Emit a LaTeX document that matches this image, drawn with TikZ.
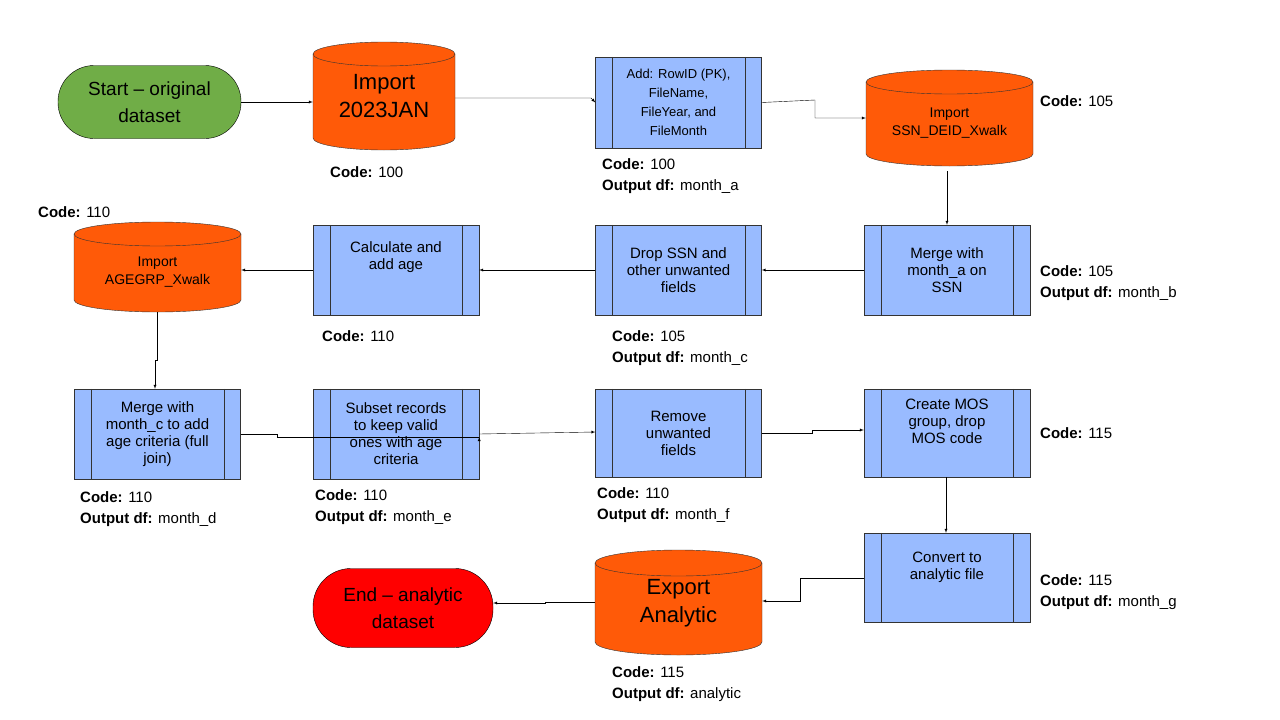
\documentclass[tikz,border=0pt]{standalone}
\usepackage{fontspec}
\setmainfont{Liberation Sans}
\begin{document}
\begin{tikzpicture}[x=1pt,y=-1pt,
  proc/.style={draw=black!80,fill=procblue,minimum width=166,minimum height=90,align=center,font=\fontsize{15}{17}\selectfont,inner sep=0},
  term/.style={draw=black,rounded corners=36,minimum height=73,align=center,font=\fontsize{19}{27}\selectfont},
  cyltxt/.style={minimum width=#1,align=center,inner sep=0},
  lbl/.style={anchor=west,font=\fontsize{15}{17}\selectfont,inner sep=0},
  conn/.style={-latex,black}]
\definecolor{procblue}{HTML}{99BBFF}
\definecolor{cylor}{HTML}{FF5A08}
\definecolor{startg}{HTML}{70AD47}
\useasboundingbox (0,0) rectangle (1280,720);
\newcommand\cylshape[5]{% x1 x2 yt yb ry
  \filldraw[fill=cylor,draw=black!80] (#1,#3) -- (#1,#4) arc[start angle=180,end angle=0,x radius={(#2-#1)/2},y radius=#5] -- (#2,#3) arc[start angle=0,end angle=-180,x radius={(#2-#1)/2},y radius=#5] -- cycle;
  \draw[black!80] (#1,#3) arc[start angle=180,end angle=0,x radius={(#2-#1)/2},y radius=#5];}
% terminals
\node[term,fill=startg,minimum width=183] (start) at (149.5,102) {Start -- original\\dataset};
\node[term,fill=red,minimum width=180,minimum height=79,rounded corners=38] (end) at (403,608) {End -- analytic\\dataset};
% cylinders
\cylshape{313}{455}{54}{138}{12}
\node[cyltxt=142,minimum height=108,font=\fontsize{22}{28}\selectfont] (imp) at (384,96) {Import\\2023JAN};
\cylshape{866}{1033}{82}{154}{12}
\node[cyltxt=167,minimum height=96,font=\fontsize{14}{18}\selectfont] (ssn) at (949.5,123) {Import\\SSN\_DEID\_Xwalk};
\cylshape{74}{241}{234}{300}{12}
\node[cyltxt=167,minimum height=90,font=\fontsize{14}{18}\selectfont] (age) at (157.5,272) {Import\\AGEGRP\_Xwalk};
\cylshape{595}{762}{563}{642}{13}
\node[cyltxt=167,minimum height=105,font=\fontsize{22}{28}\selectfont] (exp) at (678.5,603) {Export\\Analytic};
% process boxes
\node[proc,font=\fontsize{13}{19}\selectfont,minimum height=91] (add) at (678.5,102.5) {Add: RowID (PK),\\FileName,\\FileYear, and\\FileMonth};
\node[proc] (mrg1) at (947,270) {Merge with\\month\_a on\\SSN};
\node[proc] (drop) at (678.5,270) {Drop SSN and\\other unwanted\\fields};
\node[proc] (calc) at (396,270) {Calculate and\\add age\\[12pt]};
\node[proc] (mrg2) at (157.5,434) {Merge with\\month\_c to add\\age criteria (full\\join)};
\node[proc] (sub) at (396,434) {Subset records\\to keep valid\\ones with age\\criteria};
\node[proc,minimum height=88] (rem) at (678.5,433) {Remove\\unwanted\\fields};
\node[proc,minimum height=88] (mos) at (947,433) {Create MOS\\group, drop\\MOS code\\[6pt]};
\node[proc,minimum height=89] (conv) at (947,577.5) {Convert to\\analytic file\\[6pt]};
\foreach \n in {add,mrg1,drop,calc,mrg2,sub,rem,mos,conv}{
  \draw[black!80] ([xshift=17]\n.north west) -- ([xshift=17]\n.south west);
  \draw[black!80] ([xshift=-17]\n.north east) -- ([xshift=-17]\n.south east);}
% labels
\node[lbl] (l1) at (330,172) {\textbf{Code:} 100};
\node[lbl] (l2) at (602,164) {\textbf{Code:} 100};
\node[lbl] (l3) at (602,187) {\textbf{Output df:} month\_a};
\node[lbl] (l4) at (1040,101) {\textbf{Code:} 105};
\node[lbl] (l5) at (1040,271) {\textbf{Code:} 105};
\node[lbl] (l6) at (1040,294) {\textbf{Output df:} month\_b};
\node[lbl] (l7) at (612,336) {\textbf{Code:} 105};
\node[lbl] (l8) at (612,359) {\textbf{Output df:} month\_c};
\node[lbl] (l9) at (322,336) {\textbf{Code:} 110};
\node[lbl] (l10) at (38,212) {\textbf{Code:} 110};
\node[lbl] (l11) at (80,497) {\textbf{Code:} 110};
\node[lbl] (l12) at (80,520) {\textbf{Output df:} month\_d};
\node[lbl] (l13) at (315,495) {\textbf{Code:} 110};
\node[lbl] (l14) at (315,518) {\textbf{Output df:} month\_e};
\node[lbl] (l15) at (597,493) {\textbf{Code:} 110};
\node[lbl] (l16) at (597,516) {\textbf{Output df:} month\_f};
\node[lbl] (l17) at (1040,433) {\textbf{Code:} 115};
\node[lbl] (l18) at (1040,580) {\textbf{Code:} 115};
\node[lbl] (l19) at (1040,603) {\textbf{Output df:} month\_g};
\node[lbl] (l20) at (612,672) {\textbf{Code:} 115};
\node[lbl] (l21) at (612,695) {\textbf{Output df:} analytic};
% connectors
\draw[conn] (start.east) -- (imp.west|-start.east);
\draw[conn] (imp.east|-0,98) -- (591,98) -- (add.west);
\draw[conn] (add.east) -- (815,100) -- (815,118) -- (ssn.west|-0,118);
\draw[conn] (ssn.south-|947,0) -- (mrg1.north);
\draw[conn] (mrg1.west) -- (drop.east);
\draw[conn] (drop.west) -- (calc.east);
\draw[conn] (calc.west) -- (age.east|-calc.west);
\draw[conn] (157,312) -- (157,360) -- (155,360) -- (mrg2.north-|155,0);
\draw[conn] (mrg2.east) -- (277,434) -- (277,437) -- (sub.east|-0,437) ++(0,0) ;
\draw[conn] (sub.east) -- (rem.west|-0,432);
\draw[conn] (rem.east) -- (812,433) -- (812,430) -- (mos.west|-0,430);
\draw[conn] (mos.south-|946,0) -- (conv.north-|946,0);
\draw[conn] (conv.west|-0,578) -- (800,578) -- (800,601) -- (exp.east|-0,601);
\draw[conn] (exp.west|-0,602) -- (545,602) -- (545,603) -- (end.east|-0,603);
\end{tikzpicture}
\end{document}
